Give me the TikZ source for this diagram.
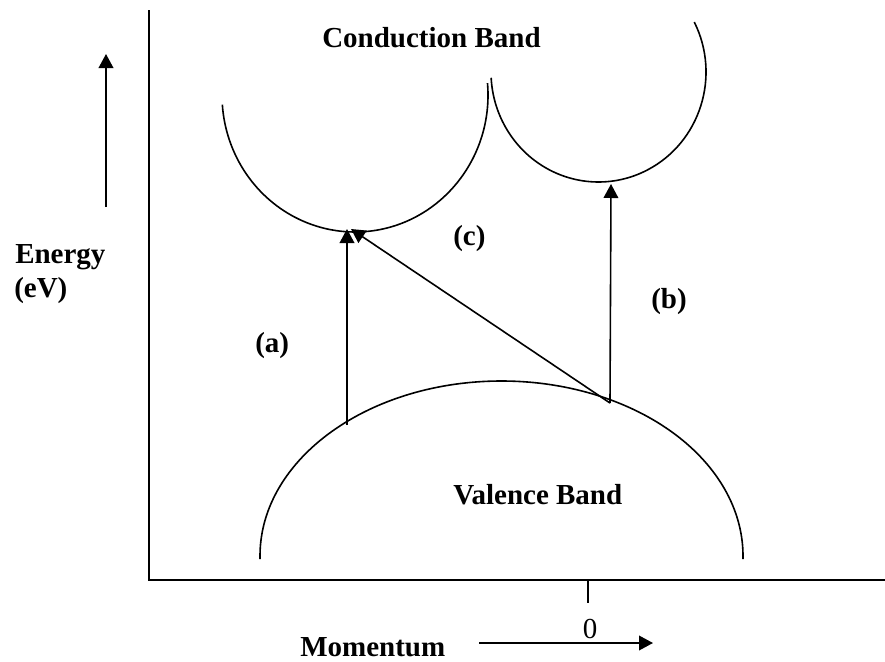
\documentclass[tikz,border=0pt]{standalone}
\usepackage{fontspec}
\setmainfont{Liberation Serif}
\usetikzlibrary{arrows.meta}

\begin{document}
\begin{tikzpicture}[x=0.75pt,y=-0.75pt,font=\fontsize{21.75}{26}\selectfont\bfseries,
    axis/.style={line width=1.6pt},
    band/.style={line width=1.2pt},
    trans/.style={line width=1.2pt,-{Triangle[length=10.5pt,width=11pt]}},
    lbl/.style={inner sep=0pt,anchor=base west}]
    \useasboundingbox (0,0) rectangle (885,661);
    % axes and tick at k = 0
    \coordinate (ytop) at (149,10);
    \coordinate (org) at (149,580);
    \coordinate (xend) at (885,580);
    \coordinate (tick) at (588,580);
    \coordinate (tickend) at (588,603);
    \draw[axis] (ytop) -- (org) -- (xend);
    \draw[axis] (tick) -- (tickend);
    % bands
    \draw[band] (355,95) ++(-5:133 and 137) arc[start angle=-5, end angle=176, x radius=133, y radius=137];
    \draw[band] (598.5,72) ++(-27:107.5 and 110) arc[start angle=-27, end angle=177, x radius=107.5, y radius=110];
    \draw[band] (501.5,556) ++(179:241.5 and 175) arc[start angle=179, end angle=361, x radius=241.5, y radius=175];
    % transitions
    \coordinate (vbA) at (347,425);
    \coordinate (cbA) at (347,229);
    \coordinate (vbB) at (610,403);
    \coordinate (cbB) at (611,184);
    \coordinate (cbC) at (351,229);
    \draw[trans] (vbA) -- (cbA);
    \draw[trans] (vbB) -- (cbB);
    \draw[trans] (vbB) -- (cbC);
    % direction arrows
    \coordinate (eLo) at (106,207);
    \coordinate (eHi) at (106,54);
    \coordinate (mLo) at (479,643);
    \coordinate (mHi) at (653,643);
    \draw[trans] (eLo) -- (eHi);
    \draw[trans] (mLo) -- (mHi);
    % labels
    \node[lbl] (cb) at (322,47) {Conduction Band};
    \node[lbl] (vb) at (453,504) {Valence Band};
    \node[lbl] (en) at (15,263) {Energy};
    \node[lbl] (ev) at (14,297) {(eV)};
    \node[lbl] (mom) at (300,656) {Momentum};
    \node[inner sep=0pt,anchor=base,font=\fontsize{21.75}{26}\selectfont\mdseries] (zero) at (590,638) {0};
    \foreach \n/\x/\y in {a/255/352, b/651/308, c/453/245}{
        \node[lbl] (l\n) at (\x,\y) {(\n)};
    }
\end{tikzpicture}
\end{document}
